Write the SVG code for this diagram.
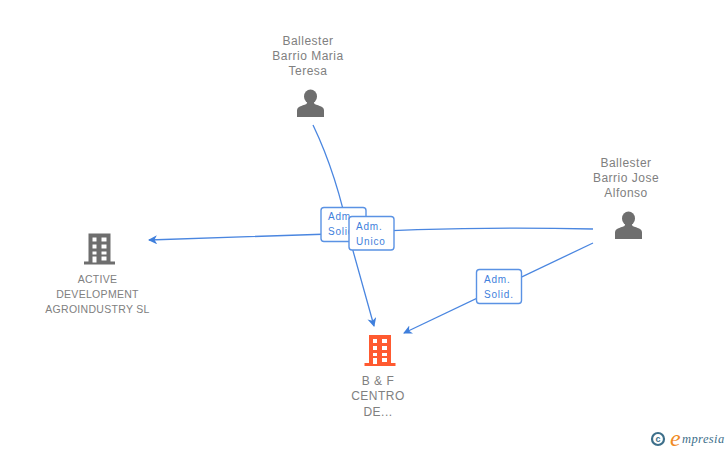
<svg xmlns="http://www.w3.org/2000/svg" width="728" height="450" viewBox="0 0 728 450">
<style>
text{font-family:"Liberation Sans",Arial,sans-serif}
.n{font-size:12px;fill:#808080;text-anchor:middle;letter-spacing:.5px}
.s{font-size:10.500px;fill:#808080;text-anchor:middle;letter-spacing:.3px}
.l{font-size:10px;fill:#3f7fdc;letter-spacing:.8px}
.c{fill:none;stroke:#4a86e0;stroke-width:1.300}
.b{fill:#fff;stroke:#5a92e4;stroke-width:1.400}
.ic{fill:#6e6e6e}
</style>
<defs>
<marker id="a" markerWidth="10" markerHeight="10" refX="8" refY="4.500" orient="auto" markerUnits="userSpaceOnUse"><path d="M0 0L9 4.500L0 9L2.500 4.500Z" fill="#3f7fdc"/></marker>
<g id="person"><ellipse cx="0" cy="-7.500" rx="6.500" ry="7"/><path d="M-13.500 13V6.500C-13.500 2.500-9 2-4 0L-3-3H3L4 0C9 2 13.500 2.500 13.500 6.500V13Z"/></g>
<g id="bld"><path fill-rule="evenodd" d="M-11-17H11V11H15.500V14H-15.500V11H-11ZM-7-13V-9H-3V-13ZM2-13V-9H7V-13ZM-7-6V-2H-3V-6ZM2-6V-2H7V-6ZM-7 1V4H-3V1ZM2 1V4H7V1ZM-7 6V12H-3V6ZM2 6V10H7V6Z"/></g>
</defs>
<g id="connectors">
<path class="c" d="M313 125C325 150 340 190 350 240L374 326" marker-end="url(#a)"/>
<path class="c" d="M593 229C500 227 420 228 330 234L149 240" marker-end="url(#a)"/>
<path class="c" d="M593 243L404 333" marker-end="url(#a)"/>
</g>
<g id="label-1"><rect class="b" x="321" y="207.500" width="45" height="34" rx="3"/><text class="l" x="328" y="220">Adm.</text><text class="l" x="328" y="235">Solid.</text></g>
<g id="label-2"><rect class="b" x="349" y="216.500" width="45" height="33.500" rx="3"/><text class="l" x="356" y="230">Adm.</text><text class="l" x="356" y="245">Unico</text></g>
<g id="label-3"><rect class="b" x="476.500" y="269.500" width="45" height="34" rx="3"/><text class="l" x="484" y="283">Adm.</text><text class="l" x="484" y="298">Solid.</text></g>
<g id="node-maria"><text class="n" x="308" y="45">Ballester</text><text class="n" x="308" y="60">Barrio Maria</text><text class="n" x="308" y="75">Teresa</text><use href="#person" class="ic" x="310.500" y="104"/></g>
<g id="node-jose"><text class="n" x="626" y="167">Ballester</text><text class="n" x="626" y="182">Barrio Jose</text><text class="n" x="626" y="197">Alfonso</text><use href="#person" class="ic" x="628.500" y="226"/></g>
<g id="node-active"><use href="#bld" class="ic" x="99.500" y="250.500"/><text class="s" x="97.500" y="283">ACTIVE</text><text class="s" x="97.500" y="298">DEVELOPMENT</text><text class="s" x="97.500" y="313">AGROINDUSTRY SL</text></g>
<g id="node-bf"><use href="#bld" fill="#ff5a30" x="380" y="352"/><text class="n" x="378" y="385">B &amp; F</text><text class="n" x="378" y="400">CENTRO</text><text class="n" x="378" y="416">DE...</text></g>
<g id="logo"><circle cx="658" cy="439" r="6" fill="none" stroke="#3d6f8a" stroke-width="2.200"/><text x="658" y="442" font-size="9" font-weight="bold" fill="#3d6f8a" text-anchor="middle">c</text><text x="670" y="446" font-size="24" font-style="italic" fill="#f08a24" style="font-family:'Liberation Serif',serif">e</text><text x="682" y="443" font-size="12.500" font-style="italic" fill="#3d6f8a" style="font-family:'Liberation Serif',serif" letter-spacing=".4">mpresia</text></g>
</svg>
